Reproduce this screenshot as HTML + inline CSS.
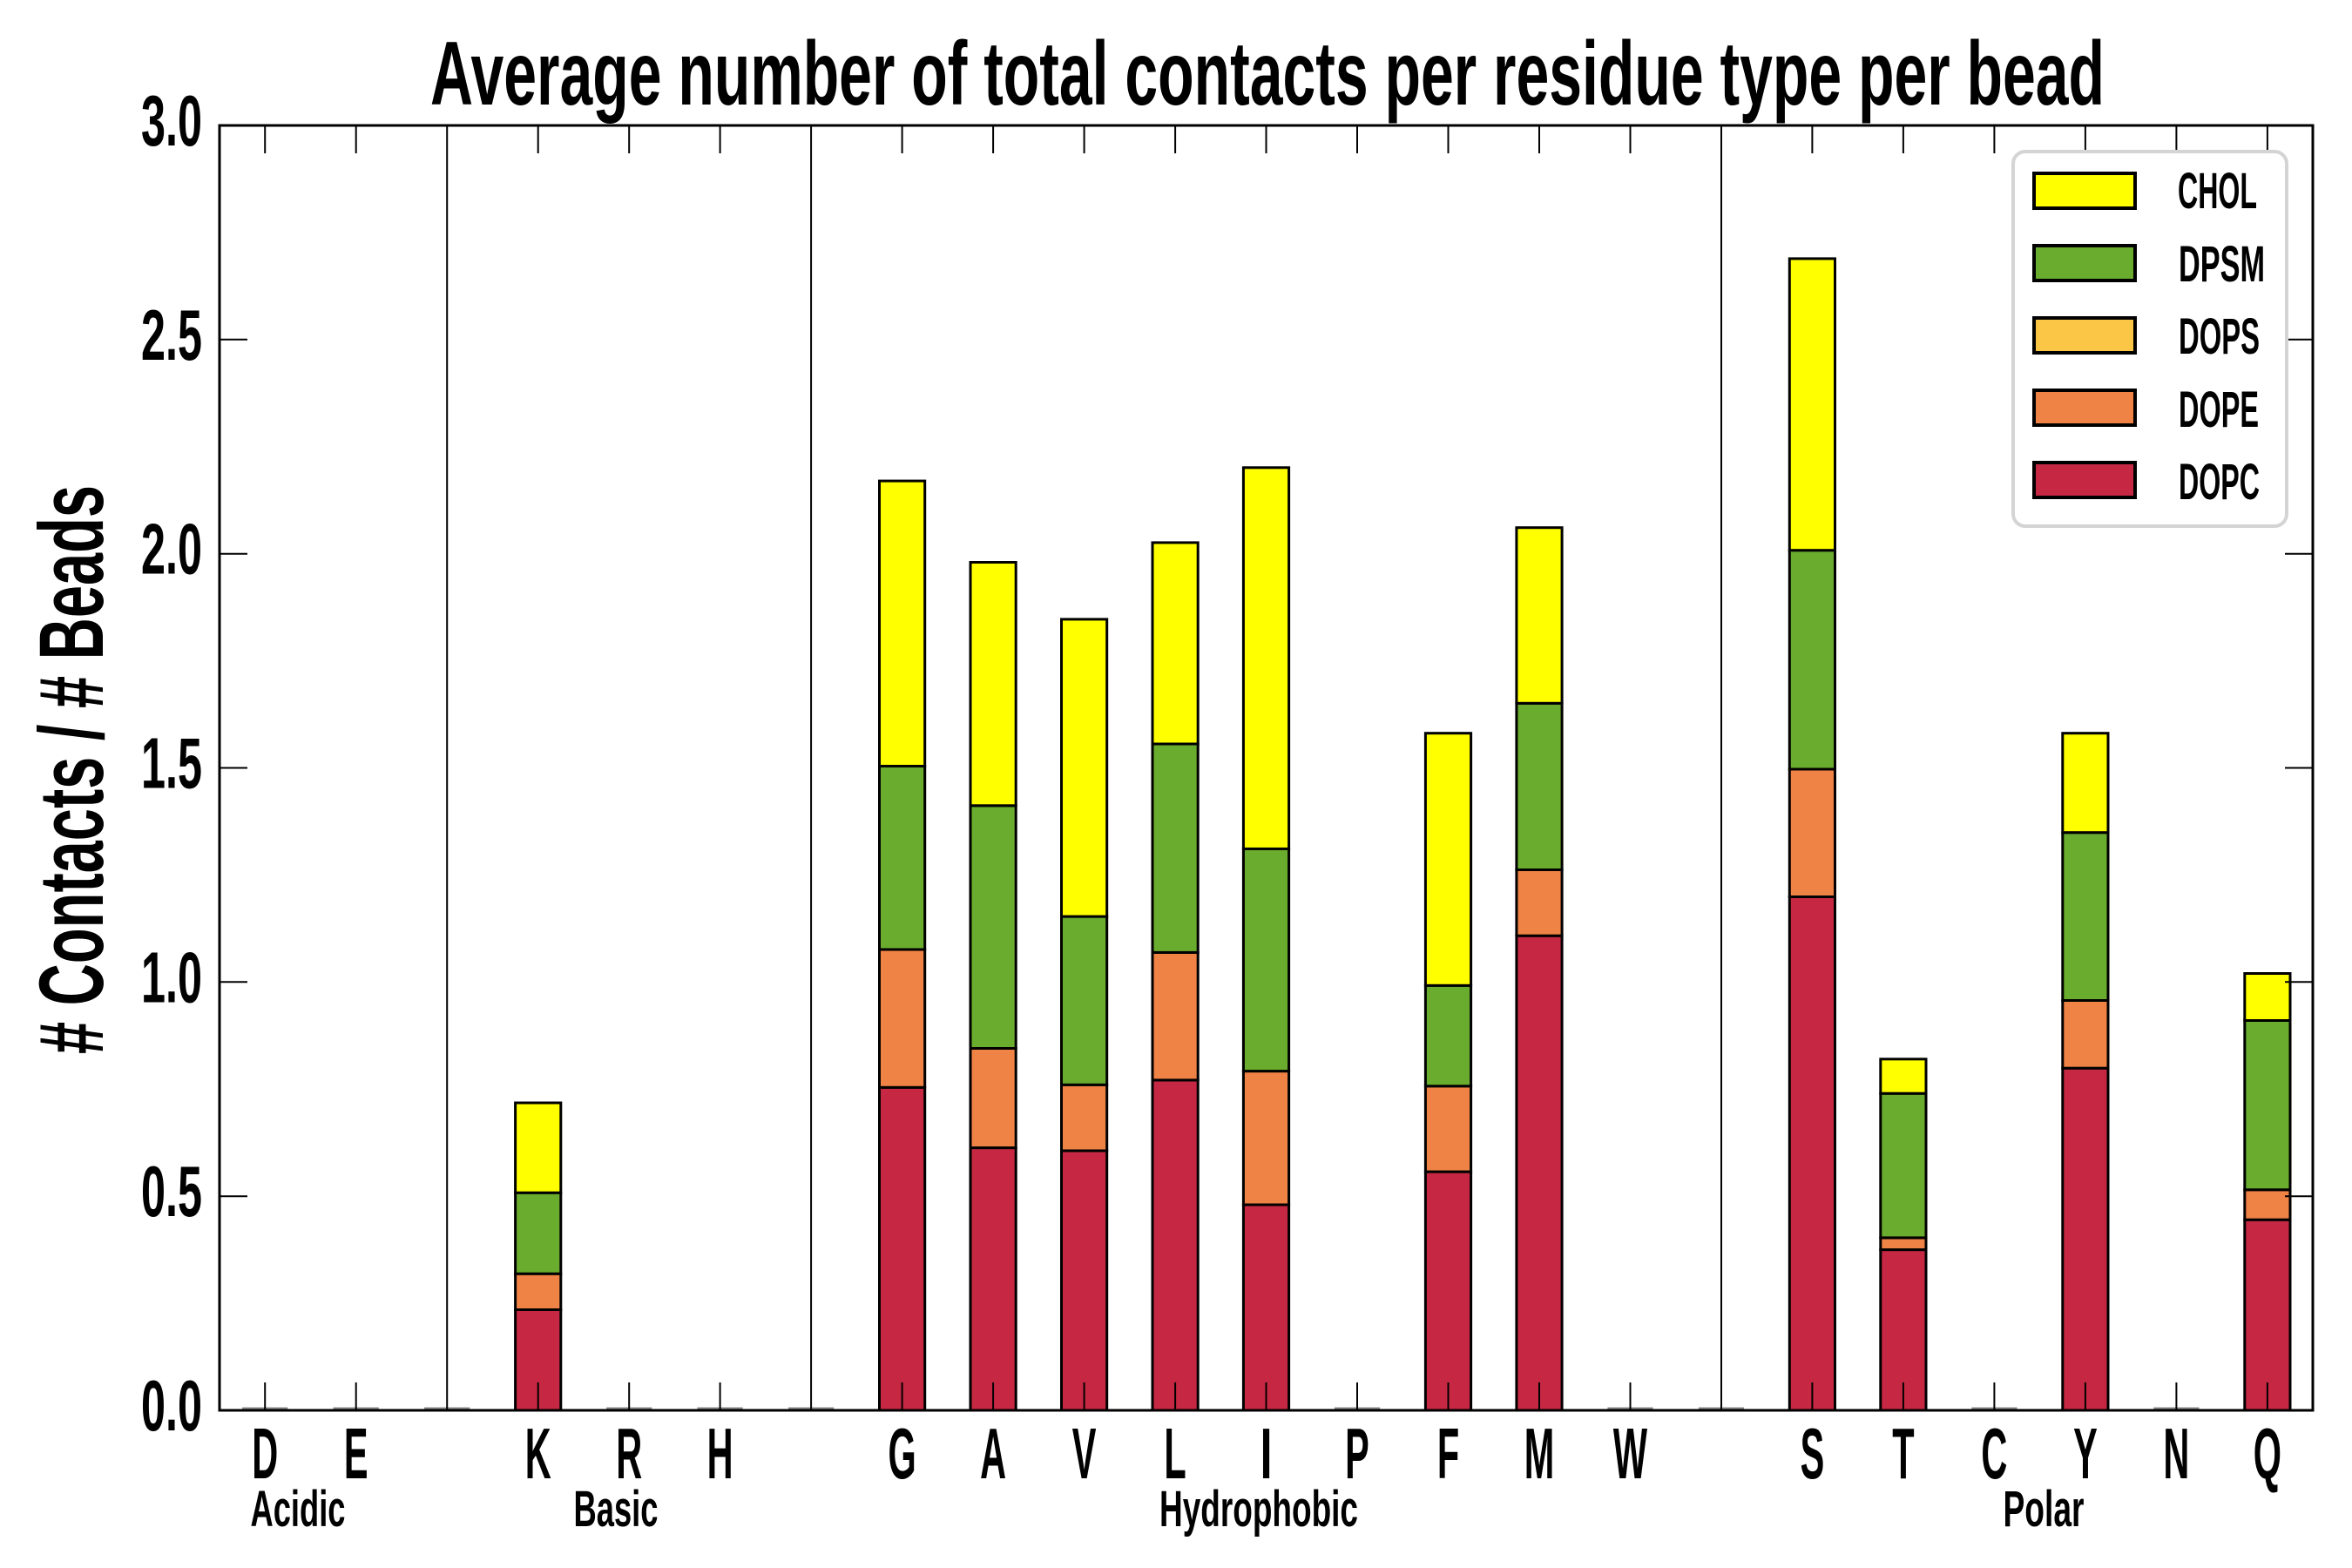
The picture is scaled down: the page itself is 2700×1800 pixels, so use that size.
<!DOCTYPE html>
<html>
<head>
<meta charset="utf-8">
<style>
html,body{margin:0;padding:0;background:#fff;}
svg{display:block;}
text{font-family:"Liberation Sans",sans-serif;font-weight:bold;fill:#000;}
</style>
</head>
<body>
<svg width="2700" height="1800" viewBox="0 0 2700 1800" xmlns="http://www.w3.org/2000/svg">
<rect x="0" y="0" width="2700" height="1800" fill="#fff"/>

<!-- Title -->
<text x="1455" y="120" font-size="104" text-anchor="middle" textLength="1922" lengthAdjust="spacingAndGlyphs">Average number of total contacts per residue type per bead</text>

<!-- Y label -->
<text transform="translate(118,883.5) rotate(-90)" font-size="105" text-anchor="middle" textLength="653" lengthAdjust="spacingAndGlyphs"># Contacts / # Beads</text>

<!-- zero bars baseline marks -->
<g stroke="#888" stroke-width="3">
<line x1="278.1" y1="1617" x2="330.3" y2="1617"/>
<line x1="382.6" y1="1617" x2="434.8" y2="1617"/>
<line x1="487.1" y1="1617" x2="539.3" y2="1617"/>
<line x1="696.1" y1="1617" x2="748.3" y2="1617"/>
<line x1="800.5" y1="1617" x2="852.7" y2="1617"/>
<line x1="905.0" y1="1617" x2="957.2" y2="1617"/>
<line x1="1531.9" y1="1617" x2="1584.1" y2="1617"/>
<line x1="1845.4" y1="1617" x2="1897.6" y2="1617"/>
<line x1="1949.9" y1="1617" x2="2002.1" y2="1617"/>
<line x1="2263.3" y1="1617" x2="2315.5" y2="1617"/>
<line x1="2472.3" y1="1617" x2="2524.5" y2="1617"/>
</g>

<!-- Divider lines -->
<g stroke="#000" stroke-width="2">
<line x1="513.2" y1="144" x2="513.2" y2="1619"/>
<line x1="931.1" y1="144" x2="931.1" y2="1619"/>
<line x1="1976.0" y1="144" x2="1976.0" y2="1619"/>
</g>

<!-- Bars -->
<g stroke="#000" stroke-width="3">
<!-- K -->
<rect x="591.6" y="1503.5" width="52.2" height="115.5" fill="#c62843"/>
<rect x="591.6" y="1462.2" width="52.2" height="41.3" fill="#ef8245"/>
<rect x="591.6" y="1369.2" width="52.2" height="93.0" fill="#6aac2d"/>
<rect x="591.6" y="1266.0" width="52.2" height="103.2" fill="#ffff00"/>
<!-- G -->
<rect x="1009.5" y="1248.3" width="52.2" height="370.7" fill="#c62843"/>
<rect x="1009.5" y="1090.0" width="52.2" height="158.3" fill="#ef8245"/>
<rect x="1009.5" y="879.5" width="52.2" height="210.5" fill="#6aac2d"/>
<rect x="1009.5" y="552.1" width="52.2" height="327.4" fill="#ffff00"/>
<!-- A -->
<rect x="1114.0" y="1317.6" width="52.2" height="301.4" fill="#c62843"/>
<rect x="1114.0" y="1203.5" width="52.2" height="114.1" fill="#ef8245"/>
<rect x="1114.0" y="924.8" width="52.2" height="278.7" fill="#6aac2d"/>
<rect x="1114.0" y="645.5" width="52.2" height="279.3" fill="#ffff00"/>
<!-- V -->
<rect x="1218.5" y="1321.0" width="52.2" height="298.0" fill="#c62843"/>
<rect x="1218.5" y="1245.3" width="52.2" height="75.7" fill="#ef8245"/>
<rect x="1218.5" y="1052.1" width="52.2" height="193.2" fill="#6aac2d"/>
<rect x="1218.5" y="710.9" width="52.2" height="341.2" fill="#ffff00"/>
<!-- L -->
<rect x="1323.0" y="1239.9" width="52.2" height="379.1" fill="#c62843"/>
<rect x="1323.0" y="1093.4" width="52.2" height="146.5" fill="#ef8245"/>
<rect x="1323.0" y="854.0" width="52.2" height="239.4" fill="#6aac2d"/>
<rect x="1323.0" y="622.9" width="52.2" height="231.1" fill="#ffff00"/>
<!-- I -->
<rect x="1427.4" y="1383.0" width="52.2" height="236.0" fill="#c62843"/>
<rect x="1427.4" y="1229.6" width="52.2" height="153.4" fill="#ef8245"/>
<rect x="1427.4" y="974.4" width="52.2" height="255.2" fill="#6aac2d"/>
<rect x="1427.4" y="536.8" width="52.2" height="437.6" fill="#ffff00"/>
<!-- F -->
<rect x="1636.4" y="1345.1" width="52.2" height="273.9" fill="#c62843"/>
<rect x="1636.4" y="1246.8" width="52.2" height="98.3" fill="#ef8245"/>
<rect x="1636.4" y="1131.3" width="52.2" height="115.5" fill="#6aac2d"/>
<rect x="1636.4" y="841.7" width="52.2" height="289.6" fill="#ffff00"/>
<!-- M -->
<rect x="1740.9" y="1074.2" width="52.2" height="544.8" fill="#c62843"/>
<rect x="1740.9" y="998.5" width="52.2" height="75.7" fill="#ef8245"/>
<rect x="1740.9" y="807.3" width="52.2" height="191.2" fill="#6aac2d"/>
<rect x="1740.9" y="605.7" width="52.2" height="201.6" fill="#ffff00"/>
<!-- S -->
<rect x="2054.3" y="1029.5" width="52.2" height="589.5" fill="#c62843"/>
<rect x="2054.3" y="883.0" width="52.2" height="146.5" fill="#ef8245"/>
<rect x="2054.3" y="631.7" width="52.2" height="251.3" fill="#6aac2d"/>
<rect x="2054.3" y="296.9" width="52.2" height="334.8" fill="#ffff00"/>
<!-- T -->
<rect x="2158.8" y="1434.6" width="52.2" height="184.4" fill="#c62843"/>
<rect x="2158.8" y="1420.9" width="52.2" height="13.7" fill="#ef8245"/>
<rect x="2158.8" y="1255.2" width="52.2" height="165.7" fill="#6aac2d"/>
<rect x="2158.8" y="1215.8" width="52.2" height="39.4" fill="#ffff00"/>
<!-- Y -->
<rect x="2367.8" y="1226.2" width="52.2" height="392.8" fill="#c62843"/>
<rect x="2367.8" y="1148.5" width="52.2" height="77.7" fill="#ef8245"/>
<rect x="2367.8" y="955.7" width="52.2" height="192.8" fill="#6aac2d"/>
<rect x="2367.8" y="841.7" width="52.2" height="114.0" fill="#ffff00"/>
<!-- Q -->
<rect x="2576.8" y="1400.2" width="52.2" height="218.8" fill="#c62843"/>
<rect x="2576.8" y="1365.8" width="52.2" height="34.4" fill="#ef8245"/>
<rect x="2576.8" y="1171.1" width="52.2" height="194.7" fill="#6aac2d"/>
<rect x="2576.8" y="1117.5" width="52.2" height="54.0" fill="#ffff00"/>
</g>

<!-- Ticks -->
<g stroke="#000" stroke-width="2">
<!-- bottom -->
<line x1="304.2" y1="1619" x2="304.2" y2="1587"/>
<line x1="408.7" y1="1619" x2="408.7" y2="1587"/>
<line x1="617.7" y1="1619" x2="617.7" y2="1587"/>
<line x1="722.2" y1="1619" x2="722.2" y2="1587"/>
<line x1="826.6" y1="1619" x2="826.6" y2="1587"/>
<line x1="1035.6" y1="1619" x2="1035.6" y2="1587"/>
<line x1="1140.1" y1="1619" x2="1140.1" y2="1587"/>
<line x1="1244.6" y1="1619" x2="1244.6" y2="1587"/>
<line x1="1349.1" y1="1619" x2="1349.1" y2="1587"/>
<line x1="1453.5" y1="1619" x2="1453.5" y2="1587"/>
<line x1="1558.0" y1="1619" x2="1558.0" y2="1587"/>
<line x1="1662.5" y1="1619" x2="1662.5" y2="1587"/>
<line x1="1767.0" y1="1619" x2="1767.0" y2="1587"/>
<line x1="1871.5" y1="1619" x2="1871.5" y2="1587"/>
<line x1="2080.4" y1="1619" x2="2080.4" y2="1587"/>
<line x1="2184.9" y1="1619" x2="2184.9" y2="1587"/>
<line x1="2289.4" y1="1619" x2="2289.4" y2="1587"/>
<line x1="2393.9" y1="1619" x2="2393.9" y2="1587"/>
<line x1="2498.4" y1="1619" x2="2498.4" y2="1587"/>
<line x1="2602.9" y1="1619" x2="2602.9" y2="1587"/>
<!-- top -->
<line x1="304.2" y1="144" x2="304.2" y2="176"/>
<line x1="408.7" y1="144" x2="408.7" y2="176"/>
<line x1="617.7" y1="144" x2="617.7" y2="176"/>
<line x1="722.2" y1="144" x2="722.2" y2="176"/>
<line x1="826.6" y1="144" x2="826.6" y2="176"/>
<line x1="1035.6" y1="144" x2="1035.6" y2="176"/>
<line x1="1140.1" y1="144" x2="1140.1" y2="176"/>
<line x1="1244.6" y1="144" x2="1244.6" y2="176"/>
<line x1="1349.1" y1="144" x2="1349.1" y2="176"/>
<line x1="1453.5" y1="144" x2="1453.5" y2="176"/>
<line x1="1558.0" y1="144" x2="1558.0" y2="176"/>
<line x1="1662.5" y1="144" x2="1662.5" y2="176"/>
<line x1="1767.0" y1="144" x2="1767.0" y2="176"/>
<line x1="1871.5" y1="144" x2="1871.5" y2="176"/>
<line x1="2080.4" y1="144" x2="2080.4" y2="176"/>
<line x1="2184.9" y1="144" x2="2184.9" y2="176"/>
<line x1="2289.4" y1="144" x2="2289.4" y2="176"/>
<line x1="2393.9" y1="144" x2="2393.9" y2="176"/>
<line x1="2498.4" y1="144" x2="2498.4" y2="176"/>
<line x1="2602.9" y1="144" x2="2602.9" y2="176"/>
<!-- left -->
<line x1="252" y1="1373.2" x2="284" y2="1373.2"/>
<line x1="252" y1="1127.3" x2="284" y2="1127.3"/>
<line x1="252" y1="881.5" x2="284" y2="881.5"/>
<line x1="252" y1="635.7" x2="284" y2="635.7"/>
<line x1="252" y1="389.8" x2="284" y2="389.8"/>
<!-- right -->
<line x1="2655" y1="1373.2" x2="2623" y2="1373.2"/>
<line x1="2655" y1="1127.3" x2="2623" y2="1127.3"/>
<line x1="2655" y1="881.5" x2="2623" y2="881.5"/>
<line x1="2655" y1="635.7" x2="2623" y2="635.7"/>
<line x1="2655" y1="389.8" x2="2623" y2="389.8"/>
</g>

<!-- Legend -->
<rect x="2311" y="174" width="314" height="430" rx="14" ry="14" fill="#fff" stroke="#d4d4d4" stroke-width="4"/>
<g stroke="#000" stroke-width="4">
<rect x="2335" y="199" width="116" height="40" fill="#ffff00"/>
<rect x="2335" y="282" width="116" height="40" fill="#6aac2d"/>
<rect x="2335" y="365" width="116" height="40" fill="#fbc546"/>
<rect x="2335" y="448" width="116" height="40" fill="#ef8245"/>
<rect x="2335" y="531" width="116" height="40" fill="#c62843"/>
</g>
<g font-size="58">
<text x="2500" y="239" textLength="91" lengthAdjust="spacingAndGlyphs">CHOL</text>
<text x="2501" y="323" textLength="99" lengthAdjust="spacingAndGlyphs">DPSM</text>
<text x="2501" y="406" textLength="93" lengthAdjust="spacingAndGlyphs">DOPS</text>
<text x="2501" y="490" textLength="92" lengthAdjust="spacingAndGlyphs">DOPE</text>
<text x="2501" y="573" textLength="93" lengthAdjust="spacingAndGlyphs">DOPC</text>
</g>

<!-- Spines -->
<rect x="252" y="144" width="2403" height="1475" fill="none" stroke="#000" stroke-width="3"/>

<!-- Y tick labels -->
<g font-size="83" text-anchor="end">
<text x="232" y="1642" textLength="70" lengthAdjust="spacingAndGlyphs">0.0</text>
<text x="232" y="1396.2" textLength="70" lengthAdjust="spacingAndGlyphs">0.5</text>
<text x="232" y="1150.3" textLength="70" lengthAdjust="spacingAndGlyphs">1.0</text>
<text x="232" y="904.5" textLength="70" lengthAdjust="spacingAndGlyphs">1.5</text>
<text x="232" y="658.7" textLength="70" lengthAdjust="spacingAndGlyphs">2.0</text>
<text x="232" y="412.8" textLength="70" lengthAdjust="spacingAndGlyphs">2.5</text>
<text x="232" y="167" textLength="70" lengthAdjust="spacingAndGlyphs">3.0</text>
</g>

<!-- X tick labels -->
<g font-size="83" text-anchor="middle">
<text transform="translate(304.2,1697) scale(0.5,1)">D</text>
<text transform="translate(408.7,1697) scale(0.5,1)">E</text>
<text transform="translate(617.7,1697) scale(0.5,1)">K</text>
<text transform="translate(722.2,1697) scale(0.5,1)">R</text>
<text transform="translate(826.6,1697) scale(0.5,1)">H</text>
<text transform="translate(1035.6,1697) scale(0.5,1)">G</text>
<text transform="translate(1140.1,1697) scale(0.5,1)">A</text>
<text transform="translate(1244.6,1697) scale(0.5,1)">V</text>
<text transform="translate(1349.1,1697) scale(0.5,1)">L</text>
<text transform="translate(1453.5,1697) scale(0.6,1)">I</text>
<text transform="translate(1558.0,1697) scale(0.5,1)">P</text>
<text transform="translate(1662.5,1697) scale(0.5,1)">F</text>
<text transform="translate(1767.0,1697) scale(0.5,1)">M</text>
<text transform="translate(1871.5,1697) scale(0.5,1)">W</text>
<text transform="translate(2080.4,1697) scale(0.5,1)">S</text>
<text transform="translate(2184.9,1697) scale(0.5,1)">T</text>
<text transform="translate(2289.4,1697) scale(0.5,1)">C</text>
<text transform="translate(2393.9,1697) scale(0.5,1)">Y</text>
<text transform="translate(2498.4,1697) scale(0.5,1)">N</text>
<text transform="translate(2602.9,1697) scale(0.5,1)">Q</text>
</g>

<!-- Group labels -->
<g font-size="58" text-anchor="middle">
<text x="342" y="1752" textLength="109" lengthAdjust="spacingAndGlyphs">Acidic</text>
<text x="707" y="1752" textLength="97" lengthAdjust="spacingAndGlyphs">Basic</text>
<text x="1445" y="1752" textLength="228" lengthAdjust="spacingAndGlyphs">Hydrophobic</text>
<text x="2346" y="1752" textLength="93" lengthAdjust="spacingAndGlyphs">Polar</text>
</g>
</svg>
</body>
</html>
